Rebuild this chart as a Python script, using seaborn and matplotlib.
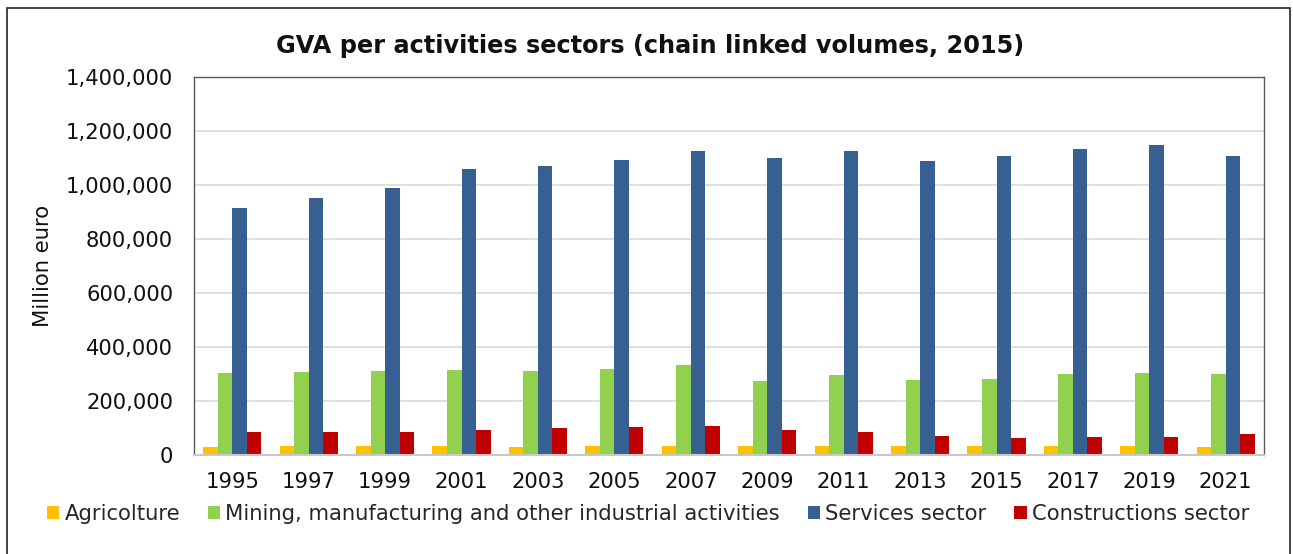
import numpy as np
import pandas as pd
import matplotlib
matplotlib.use("Agg")
import matplotlib.pyplot as plt
from matplotlib.patches import Rectangle
from matplotlib.ticker import FuncFormatter
import seaborn as sns

# Gross value added by sector, million euro (chain linked volumes, reference year 2015)
years = ["1995", "1997", "1999", "2001", "2003", "2005", "2007",
         "2009", "2011", "2013", "2015", "2017", "2019", "2021"]
agriculture = [30000, 32000, 35000, 32000, 30000, 32000, 32000,
               32000, 33000, 32000, 35000, 32000, 32000, 30000]
industry = [304000, 306000, 311000, 316000, 310000, 317000, 335000,
            273000, 295000, 279000, 282000, 299000, 305000, 301000]
services = [914000, 951000, 988000, 1058000, 1069000, 1091000, 1127000,
            1101000, 1125000, 1090000, 1109000, 1135000, 1148000, 1107000]
construction = [86000, 84000, 84000, 93000, 99000, 103000, 106000,
                93000, 84000, 72000, 64000, 65000, 68000, 78000]

sector_names = ["Agricolture",
                "Mining, manufacturing and other industrial activities",
                "Services sector",
                "Constructions sector"]
sector_colors = ["#FFC000", "#92D050", "#376092", "#C00000"]

df = pd.DataFrame({
    "year": years * 4,
    "value": agriculture + industry + services + construction,
    "sector": np.repeat(sector_names, len(years)),
})

sns.set_style("white")
plt.rcParams["font.family"] = ["DejaVu Sans"]

fs = 15.2

fig = plt.figure(figsize=(12.93, 5.54), dpi=100)
ax = fig.add_axes([194 / 1293, 1 - 455 / 554, 1070 / 1293, 378 / 554])

sns.barplot(data=df, x="year", y="value", hue="sector",
            hue_order=sector_names, order=years,
            palette=sector_colors, width=0.76, gap=0,
            saturation=1, errorbar=None, ax=ax,
            edgecolor="none")

ax.set_ylim(0, 1400000)
ax.set_yticks(np.arange(0, 1400001, 200000))
ax.yaxis.set_major_formatter(FuncFormatter(lambda v, p: f"{int(v):,}"))
ax.set_xlim(-0.5, len(years) - 0.5)

ax.grid(axis="y", color="#d9d9d9", linewidth=1.2)
ax.set_axisbelow(True)

for side in ("left", "top", "right"):
    ax.spines[side].set_color("#595959")
    ax.spines[side].set_linewidth(1.0)
ax.spines["bottom"].set_color("#c8c8c8")
ax.spines["bottom"].set_linewidth(1.5)

ax.tick_params(axis="y", length=0, pad=15, labelsize=fs, colors="#111111")
ax.tick_params(axis="x", length=0, pad=12, labelsize=fs, colors="#111111")

ax.set_xlabel("")
ax.set_ylabel("Million euro", fontsize=fs, va="center", color="#111111")
ax.yaxis.set_label_coords(-0.141, 0.5)

fig.suptitle("GVA per activities sectors (chain linked volumes, 2015)",
             x=650 / 1293, y=1 - 46 / 554, va="center",
             fontsize=17.3, fontweight="bold", color="#111111")

sns.move_legend(ax, "center", bbox_to_anchor=(648 / 1293, 1 - 514 / 554),
                bbox_transform=fig.transFigure, ncol=4, frameon=False,
                title=None, fontsize=fs, handlelength=0.6, handleheight=0.6,
                handletextpad=0.25, columnspacing=1.3)

# Outer chart border
fig.add_artist(Rectangle((7 / 1293, -0.1), 1283 / 1293, 1.1 - 8 / 554,
                         transform=fig.transFigure, fill=False,
                         edgecolor="#262626", linewidth=1.2))

fig.savefig("out.png", dpi=100)
